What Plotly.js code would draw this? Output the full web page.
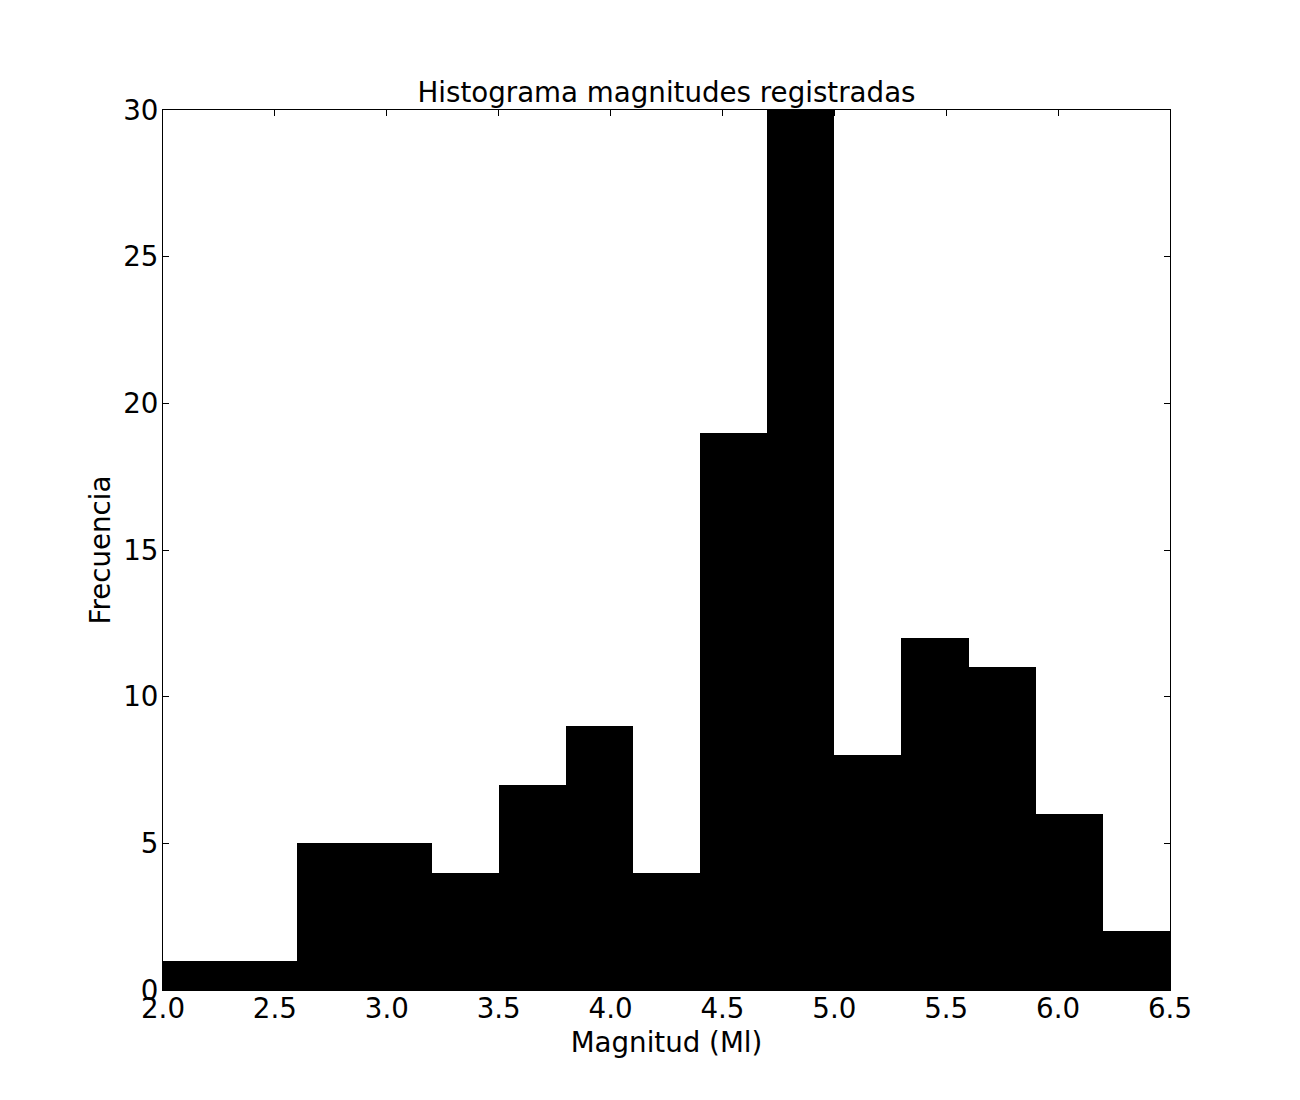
<!DOCTYPE html>
<html>
<head>
<meta charset="utf-8">
<script src="https://cdn.plot.ly/plotly-3.0.1.min.js"></script>
<style>
  html, body { margin: 0; padding: 0; background: #fff; }
  #chart { width: 1300px; height: 1100px; }
</style>
</head>
<body>
<div id="chart"></div>
<script>
// Histogram data
const binStarts = [2.0, 2.3, 2.6, 2.9, 3.2, 3.5, 3.8, 4.1, 4.4, 4.7, 5.0, 5.3, 5.6, 5.9, 6.2];
const binWidth = 0.3;
const counts = [1, 1, 5, 5, 4, 7, 9, 4, 19, 30, 8, 12, 11, 6, 2];
const xTicks = [2.0, 2.5, 3.0, 3.5, 4.0, 4.5, 5.0, 5.5, 6.0, 6.5];
const yTicks = [0, 5, 10, 15, 20, 25, 30];

const FONT = 'DejaVu Sans';
const FS = 27.7;

const trace = {
  type: 'bar',
  x: binStarts,
  y: counts,
  width: binStarts.map(() => binWidth),
  offset: 0,
  marker: { color: '#000000', line: { width: 0 } },
  hoverinfo: 'x+y'
};

const axisCommon = {
  showgrid: false,
  zeroline: false,
  showline: true,
  linecolor: '#000000',
  linewidth: 1,
  mirror: 'allticks',
  ticks: 'inside',
  ticklen: 6,
  tickwidth: 1,
  tickcolor: '#000000',
  tickfont: { family: FONT, size: FS, color: '#000000' }
};

const layout = {
  width: 1300,
  height: 1100,
  paper_bgcolor: '#ffffff',
  plot_bgcolor: '#ffffff',
  margin: { l: 163, r: 130, t: 110, b: 110 },
  showlegend: false,
  bargap: 0,
  title: {
    text: 'Histograma magnitudes registradas',
    font: { family: FONT, size: FS, color: '#000000' },
    x: 0.5, xref: 'paper', xanchor: 'center',
    y: 1, yref: 'paper', yanchor: 'bottom',
    pad: { b: 8 }
  },
  xaxis: Object.assign({}, axisCommon, {
    range: [2.0, 6.5],
    tickmode: 'array',
    tickvals: xTicks,
    ticktext: xTicks.map(v => v.toFixed(1)),
    ticklabelstandoff: -6,
    title: { text: 'Magnitud (Ml)', font: { family: FONT, size: FS, color: '#000000' }, standoff: 8 }
  }),
  yaxis: Object.assign({}, axisCommon, {
    range: [0, 30],
    tickmode: 'array',
    tickvals: yTicks,
    ticktext: yTicks.map(v => String(v)),
    ticklabelstandoff: -2,
    title: { text: 'Frecuencia', font: { family: FONT, size: FS, color: '#000000' }, standoff: 4 }
  })
};

Plotly.newPlot('chart', [trace], layout, { displayModeBar: false, staticPlot: true });
</script>
</body>
</html>
